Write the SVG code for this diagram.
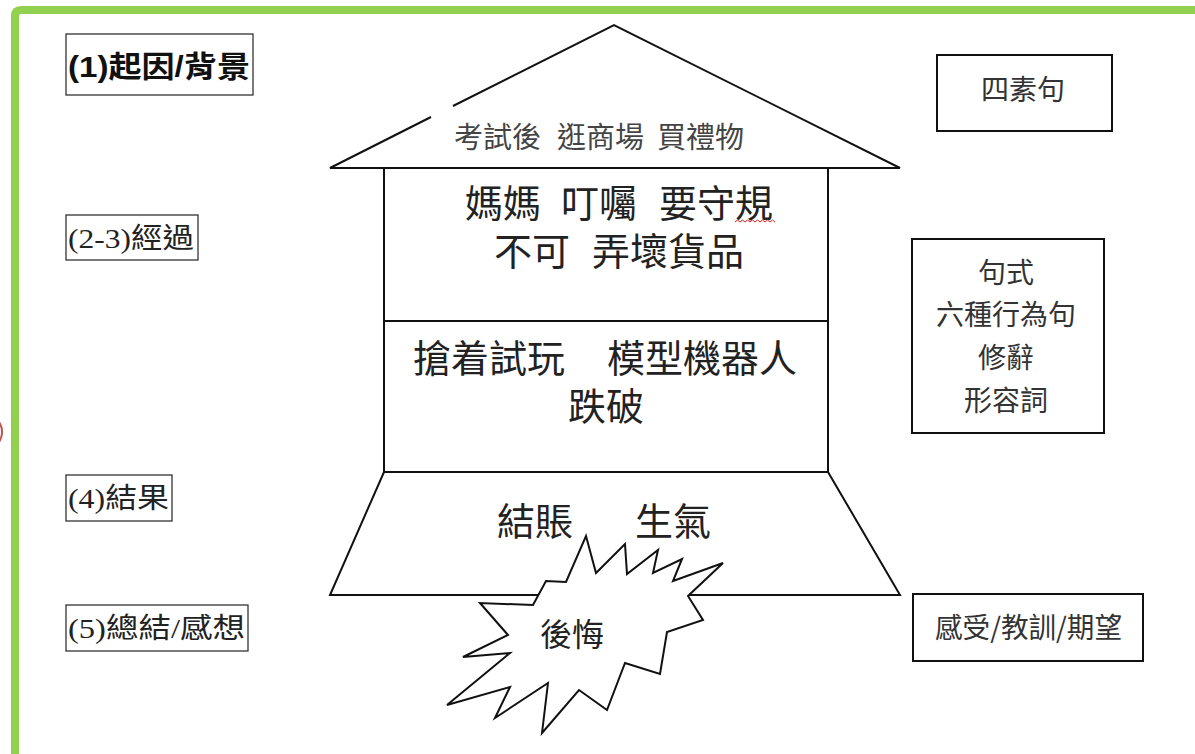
<svg xmlns="http://www.w3.org/2000/svg" width="1195" height="754" viewBox="0 0 1195 754">
  <style>
    .frame { fill: none; stroke: #92d050; stroke-width: 8; }
    .lbox { fill: #ffffff; stroke: #333333; stroke-width: 1.3; }
    .rbox { fill: #ffffff; stroke: #111111; stroke-width: 2; }
    .shape { fill: #ffffff; stroke: #111111; stroke-width: 2; stroke-linejoin: miter; }
    .cjk { font-family: "Noto Sans CJK TC", "Noto Sans CJK SC", sans-serif; fill: #222222; }
    .lab1 { font-family: "Liberation Sans", "Noto Sans CJK TC", sans-serif; font-weight: bold; font-size: 30px; fill: #111111; }
    .lab { font-family: "Liberation Serif", "Noto Sans CJK TC", serif; font-size: 28px; fill: #222222; }
    .big { font-size: 38px; }
    .mid { font-size: 28px; fill: #333333; }
    .roof { font-size: 29px; fill: #444444; }
  </style>
  <rect x="0" y="0" width="1195" height="754" fill="#ffffff"/>

  <!-- green frame -->
  <path class="frame" d="M15,754 L15,16 Q15,10 21,10 L1200,10"/>
  <!-- red partial mark at left edge -->
  <ellipse cx="-4" cy="432" rx="6" ry="11" fill="none" stroke="#c0504d" stroke-width="2"/>

  <!-- left labels -->
  <g id="label-1">
    <rect class="lbox" x="66" y="34" width="187" height="61"/>
    <text class="lab1" x="68" y="77" textLength="182" lengthAdjust="spacingAndGlyphs">(1)起因/背景</text>
  </g>
  <g id="label-2">
    <rect class="lbox" x="66" y="215" width="132" height="45"/>
    <text class="lab" x="68" y="248" textLength="126" lengthAdjust="spacingAndGlyphs">(2-3)經過</text>
  </g>
  <g id="label-4">
    <rect class="lbox" x="66" y="475" width="106" height="46"/>
    <text class="lab" x="68" y="508" textLength="101" lengthAdjust="spacingAndGlyphs">(4)結果</text>
  </g>
  <g id="label-5">
    <rect class="lbox" x="66" y="605" width="182" height="46"/>
    <text class="lab" x="68" y="638" textLength="177" lengthAdjust="spacingAndGlyphs">(5)總結/感想</text>
  </g>

  <!-- house -->
  <g id="roof">
    <path fill="#ffffff" stroke="none" d="M614,25 L900,168 L330,168 Z"/>
    <path fill="none" stroke="#111111" stroke-width="2" d="M453,106 L614,25 L900,168 L330,168 L431,117"/>
    <text class="cjk roof" y="148"><tspan x="454">考試後</tspan><tspan x="557">逛商場</tspan><tspan x="657">買禮物</tspan></text>
  </g>
  <g id="floor-1">
    <rect class="shape" x="384" y="168" width="444" height="153"/>
    <text class="cjk big" y="217"><tspan x="465">媽媽</tspan><tspan x="561">叮囑</tspan><tspan x="659">要守規</tspan></text>
    <text class="cjk big" y="265"><tspan x="494">不可</tspan><tspan x="592">弄壞貨品</tspan></text>
    <path d="M735,222 l2.5,-2 l2.5,2 l2.5,-2 l2.5,2 l2.5,-2 l2.5,2 l2.5,-2 l2.5,2 l2.5,-2 l2.5,2 l2.5,-2 l2.5,2 l2.5,-2 l2.5,2 l2.5,-2 l2.5,2" fill="none" stroke="#e02020" stroke-width="1"/>
  </g>
  <g id="floor-2">
    <rect class="shape" x="384" y="321" width="444" height="151"/>
    <text class="cjk big" y="372"><tspan x="413">搶着試玩</tspan><tspan x="607">模型機器人</tspan></text>
    <text class="cjk big" x="568" y="420">跌破</text>
  </g>
  <g id="base">
    <polygon class="shape" points="384,472 828,472 900,595 330,595"/>
    <text class="cjk big" y="535"><tspan x="497">結賬</tspan><tspan x="635">生氣</tspan></text>
  </g>
  <g id="burst">
    <polygon class="shape" points="586,536 596,573 625,544 627,574 658,550 653,573 682,559 673,581 723,563 688,596 703,620 667,632 660,674 625,663 607,710 579,690 542,733 548,683 495,718 510,687 447,705 510,653 463,657 508,635 480,603 533,605 546,581 566,582"/>
    <text class="cjk" font-size="32" fill="#333333" x="540" y="646">後悔</text>
  </g>

  <!-- right boxes -->
  <g id="box-sentence">
    <rect class="rbox" x="937" y="55" width="175" height="76"/>
    <text class="cjk mid" x="1023" y="100" text-anchor="middle">四素句</text>
  </g>
  <g id="box-style">
    <rect class="rbox" x="912" y="239" width="192" height="194"/>
    <text class="cjk mid" x="1006" y="283" text-anchor="middle">句式</text>
    <text class="cjk mid" x="1006" y="325" text-anchor="middle">六種行為句</text>
    <text class="cjk mid" x="1006" y="368" text-anchor="middle">修辭</text>
    <text class="cjk mid" x="1006" y="411" text-anchor="middle">形容詞</text>
  </g>
  <g id="box-feeling">
    <rect class="rbox" x="913" y="594" width="230" height="67"/>
    <text class="cjk mid" x="935" y="638" textLength="187" lengthAdjust="spacingAndGlyphs">感受/教訓/期望</text>
  </g>
</svg>
